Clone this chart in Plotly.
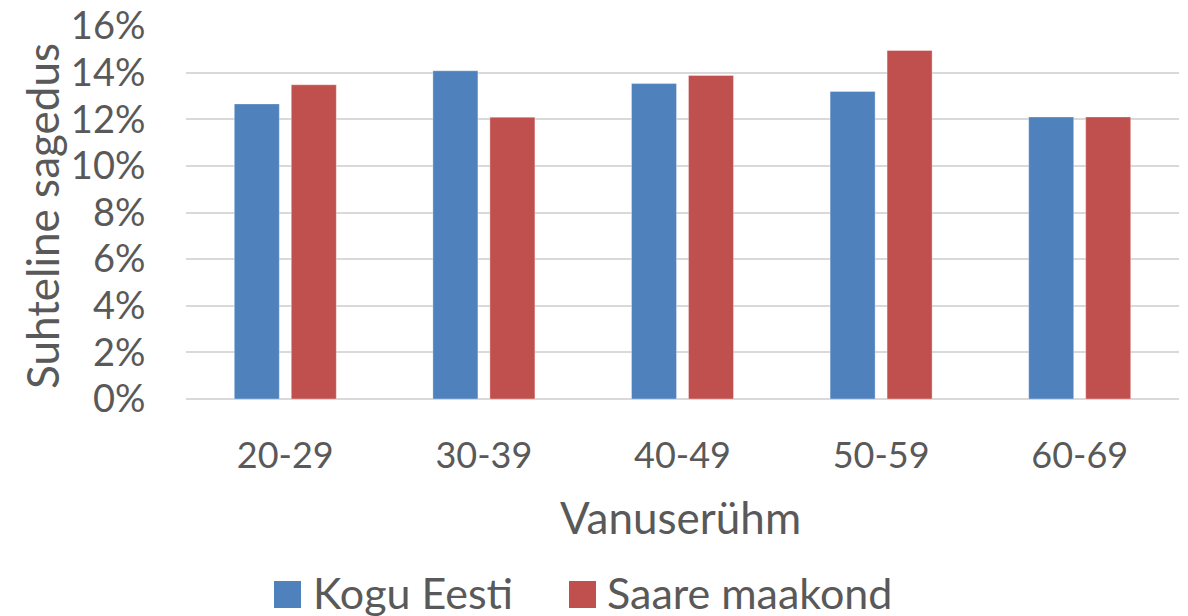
import plotly.graph_objects as go

categories = ["20-29", "30-39", "40-49", "50-59", "60-69"]
kogu_eesti = [0.1266, 0.1408, 0.1353, 0.1319, 0.1210]
saare_maakond = [0.1348, 0.1209, 0.1388, 0.1495, 0.1210]
series_names = ["Kogu Eesti", "Saare maakond"]
colors = ["#4F81BD", "#C0504D"]

# page body has an 8px margin: work in figure coordinates (reference - 8)
OFF = 8
W, H = 1188 - OFF, 616 - OFF
L, R, T, B = 186 - OFF, 9, 26 - OFF, 217
pw, ph = W - L - R, H - T - B


def px(x):
    return (x - OFF - L) / pw


def py(y):
    return (H - B - (y - OFF)) / ph


font = "Lato, 'Open Sans', sans-serif"
txt = "#595959"

fig = go.Figure()
for name, vals, col in zip(series_names, [kogu_eesti, saare_maakond], colors):
    fig.add_trace(go.Bar(x=categories, y=vals, name=name, marker_color=col,
                         marker_line_color="rgba(255,255,255,0.35)", marker_line_width=1,
                         showlegend=False))

fig.update_layout(
    width=W, height=H,
    margin=dict(l=L, r=R, t=T, b=B, autoexpand=False),
    paper_bgcolor="white", plot_bgcolor="white",
    barmode="group", bargap=0.426, bargroupgap=0.21,
    font=dict(family=font, color=txt),
    xaxis=dict(showgrid=False, showline=False, zeroline=False, automargin=False,
               ticks="outside", ticklen=25, tickcolor="rgba(0,0,0,0)",
               tickfont=dict(size=36, color=txt)),
    yaxis=dict(range=[0, 0.16001], tickvals=[0, 0.02, 0.04, 0.06, 0.08, 0.10, 0.12, 0.14, 0.16],
               tickformat=".0%", automargin=False, ticklabeloverflow="allow",
               showgrid=True, gridcolor="#D9D9D9", gridwidth=1.5,
               zeroline=True, zerolinecolor="#D9D9D9", zerolinewidth=1.5,
               showline=False,
               ticks="outside", ticklen=32, tickcolor="rgba(0,0,0,0)",
               tickfont=dict(size=38, color=txt)),
)

annotations = [
    dict(text="Suhteline sagedus", x=px(42), y=py(216), xref="paper", yref="paper",
         textangle=-90, showarrow=False, xanchor="center", yanchor="middle",
         font=dict(size=44, color=txt, family=font)),
    dict(text="Vanuserühm", x=px(680), y=py(517), xref="paper", yref="paper",
         showarrow=False, xanchor="center", yanchor="middle",
         font=dict(size=44, color=txt, family=font)),
]
legend_x = [(274, 311), (569, 605)]
shapes = []
for (sx, tx), name, col in zip(legend_x, series_names, colors):
    shapes.append(dict(type="rect", xref="paper", yref="paper",
                       x0=px(sx), x1=px(sx + 27), y0=py(608), y1=py(581),
                       fillcolor=col, line=dict(width=0)))
    annotations.append(dict(text=name, x=px(tx), y=py(592), xref="paper", yref="paper",
                            showarrow=False, xanchor="left", yanchor="middle",
                            font=dict(size=43, color=txt, family=font)))
fig.update_layout(annotations=annotations, shapes=shapes)

fig.write_html("out.html")
